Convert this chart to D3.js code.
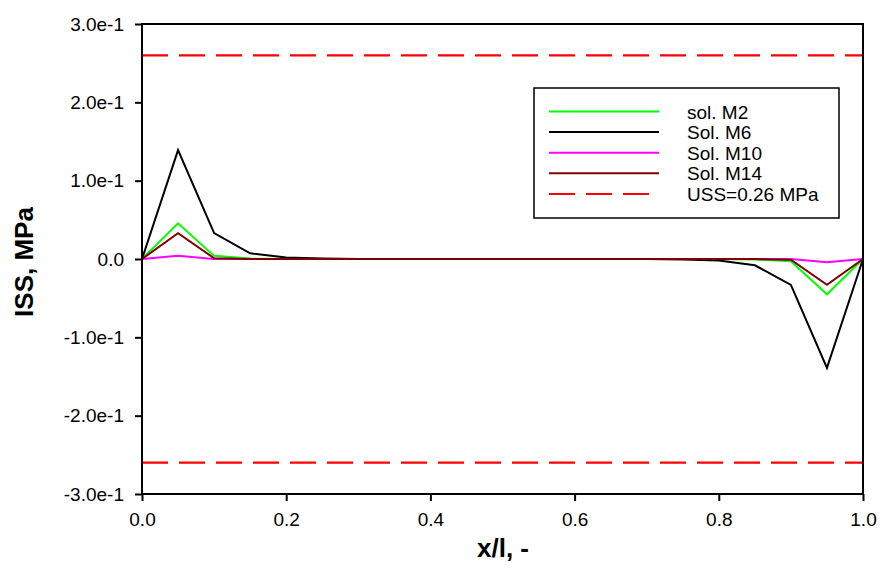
<!DOCTYPE html>
<html>
<head>
<meta charset="utf-8">
<script src="https://cdn.jsdelivr.net/npm/d3@7"></script>
<style>
  body { margin: 0; background: #fff; }
  svg { font-family: Arial, "Liberation Sans", sans-serif; }
</style>
</head>
<body>
<svg id="chart" width="880" height="577"></svg>
<script>
const xs = [0, 0.05, 0.1, 0.15, 0.2, 0.25, 0.3, 0.35, 0.4, 0.45, 0.5, 0.55, 0.6, 0.65, 0.7, 0.75, 0.8, 0.85, 0.9, 0.95, 1.0]
const solM2  = [0, 0.0456, 0.004, 0.0005, 0, 0, 0, 0, 0, 0, 0, 0, 0, 0, 0, 0, 0, -0.0005, -0.003, -0.045, 0]
const solM6  = [0, 0.139, 0.033, 0.0073, 0.002, 0.0005, 0, 0, 0, 0, 0, 0, 0, 0, 0, -0.0005, -0.002, -0.008, -0.033, -0.139, 0]
const solM10 = [0, 0.004, 0, 0, 0, 0, 0, 0, 0, 0, 0, 0, 0, 0, 0, 0, 0, 0, 0, -0.004, 0]
const solM14 = [0, 0.033, 0.001, 0, 0, 0, 0, 0, 0, 0, 0, 0, 0, 0, 0, 0, 0, 0, -0.001, -0.033, 0]
const uss = 0.26
const seriesNames = ['sol. M2', 'Sol. M6', 'Sol. M10', 'Sol. M14']
const seriesColors = ['#00ff00', '#000000', '#ff00ff', '#800000']
const yTicks = [-0.3, -0.2, -0.1, 0, 0.1, 0.2, 0.3]
const yTickLabels = ['-3.0e-1', '-2.0e-1', '-1.0e-1', '0.0', '1.0e-1', '2.0e-1', '3.0e-1']
const xTicks = [0, 0.2, 0.4, 0.6, 0.8, 1.0]

const svg = d3.select('#chart')
const m = { left: 142, right: 863, top: 24, bottom: 494 }

const x = d3.scaleLinear().domain([0, 1]).range([m.left, m.right])
const y = d3.scaleLinear().domain([-0.3, 0.3]).range([m.bottom, m.top])

// uss limits
svg.selectAll('.uss').data([uss, -uss]).enter().append('line')
  .attr('class', 'uss')
  .attr('x1', x(0)).attr('x2', x(1))
  .attr('y1', d => y(d)).attr('y2', d => y(d))
  .attr('stroke', '#ff0000').attr('stroke-width', 2.2)
  .attr('stroke-dasharray', '26 11')

const series = [solM2, solM6, solM10, solM14]
const line = d3.line().x((d, i) => x(xs[i])).y(d => y(d))
svg.selectAll('.series').data(series).enter().append('path')
  .attr('class', 'series')
  .attr('d', line)
  .attr('fill', 'none')
  .attr('stroke', (d, i) => seriesColors[i])
  .attr('stroke-width', 2)

// axes
const yAxis = d3.axisLeft(y).tickValues(yTicks).tickFormat((d, i) => yTickLabels[i]).tickSize(7).tickPadding(11)
svg.append('g').attr('transform', `translate(${m.left},0)`).call(yAxis)
  .call(g => g.select('.domain').remove())
  .call(g => g.selectAll('.tick line').attr('stroke-width', 2))
  .call(g => g.selectAll('text').attr('font-size', 19).attr('fill', '#000'))

const xAxis = d3.axisBottom(x).tickValues(xTicks).tickFormat(d3.format('.1f')).tickSize(7).tickPadding(12)
svg.append('g').attr('transform', `translate(0,${m.bottom})`).call(xAxis)
  .call(g => g.select('.domain').remove())
  .call(g => g.selectAll('.tick line').attr('stroke-width', 2))
  .call(g => g.selectAll('text').attr('font-size', 19).attr('fill', '#000'))

// frame
svg.append('rect')
  .attr('x', m.left).attr('y', m.top)
  .attr('width', m.right - m.left).attr('height', m.bottom - m.top)
  .attr('fill', 'none').attr('stroke', '#000').attr('stroke-width', 2)

// titles
svg.append('text')
  .attr('transform', `translate(33,262) rotate(-90)`)
  .attr('text-anchor', 'middle')
  .attr('font-size', 26).attr('font-weight', 'bold')
  .text('ISS, MPa')

svg.append('text')
  .attr('x', 503).attr('y', 557)
  .attr('text-anchor', 'middle')
  .attr('font-size', 26).attr('font-weight', 'bold')
  .text('x/l, -')

// legend
const legend = svg.append('g')
legend.append('rect')
  .attr('x', 534).attr('y', 88).attr('width', 305).attr('height', 130)
  .attr('fill', '#fff').attr('stroke', '#000').attr('stroke-width', 1.5)

const legendItems = seriesNames.map((n, i) => ({ name: n, color: seriesColors[i], dash: null }))
  .concat([{ name: 'USS=0.26 MPa', color: '#ff0000', dash: '26 11' }])
const rows = legend.selectAll('.row').data(legendItems).enter().append('g')
  .attr('transform', (d, i) => `translate(0,${111.5 + i * 20.6})`)
rows.append('line')
  .attr('x1', 549).attr('x2', d => d.dash ? 655 : 659)
  .attr('stroke', d => d.color).attr('stroke-width', 2)
  .attr('stroke-dasharray', d => d.dash)
rows.append('text')
  .attr('x', 687).attr('y', 7)
  .attr('font-size', 19)
  .text(d => d.name)
</script>
</body>
</html>
